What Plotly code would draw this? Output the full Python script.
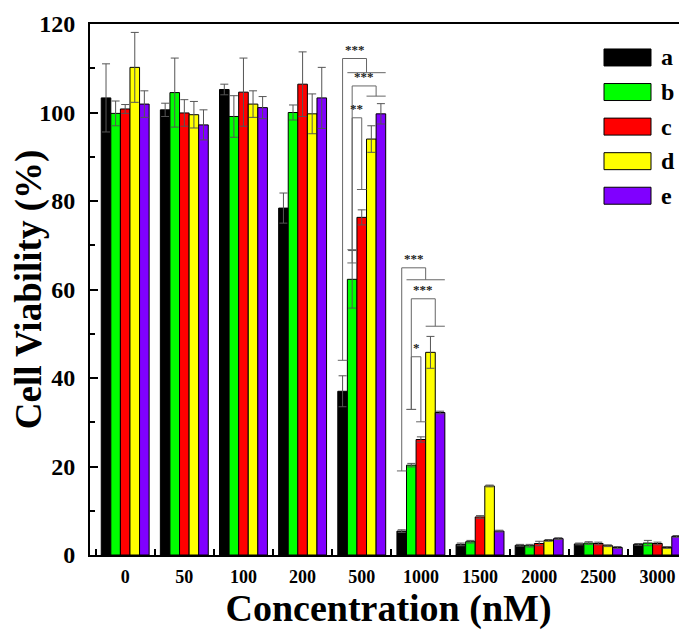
import plotly.graph_objects as go

# ---------------- data ----------------
categories = ["0", "50", "100", "200", "500", "1000", "1500", "2000", "2500", "3000"]
series_names = ["a", "b", "c", "d", "e"]

a_vals = [103.3, 100.6, 105.2, 78.4, 37.0, 5.4, 2.4, 2.2, 2.5, 2.4]
a_err = [7.7, 1.5, 1.2, 3.4, 3.5, 0.3, 0.3, 0.2, 0.2, 0.2]
b_vals = [99.8, 104.5, 99.1, 100.0, 62.3, 20.3, 3.0, 2.1, 2.7, 2.7]
b_err = [2.8, 7.8, 4.7, 1.7, 6.5, 0.4, 0.3, 0.3, 0.3, 0.6]
c_vals = [100.8, 99.9, 104.6, 106.4, 76.3, 26.1, 8.6, 2.6, 2.6, 2.6]
c_err = [1.0, 3.0, 7.7, 7.3, 1.7, 0.6, 0.3, 0.5, 0.3, 0.3]
d_vals = [110.2, 99.5, 101.9, 99.7, 94.0, 45.8, 15.6, 3.3, 2.1, 1.7]
d_err = [7.9, 3.0, 3.0, 4.5, 3.0, 3.6, 0.2, 0.2, 0.2, 0.2]
e_vals = [101.9, 97.2, 101.1, 103.3, 99.7, 32.2, 5.4, 3.7, 1.7, 4.2]
e_err = [3.0, 3.4, 2.5, 6.9, 2.3, 0.3, 0.2, 0.2, 0.2, 0.2]

values = [a_vals, b_vals, c_vals, d_vals, e_vals]
errors = [a_err, b_err, c_err, d_err, e_err]
colors = ["#000000", "#00FF00", "#FF0000", "#FFFF00", "#8000FF"]

# significance brackets
sig_group = [4, 4, 4, 5, 5, 5]
sig_left = ["a", "b", "b", "a", "b", "b"]
sig_right = [["b", "e"], ["d", "e"], ["c"], ["b", "e"], ["d", "e"], ["c"]]
sig_top = [112.2, 106.0, 98.8, 64.9, 57.9, 44.8]
sig_drop = [109.0, 103.7, 82.6, 62.2, 51.7, 30.1]
sig_leg_bottom = [44.0, 69.0, 66.0, 19.0, 32.9, 32.9]
sig_label = ["***", "***", "**", "***", "***", "*"]

# ---------------- figure ----------------
FONT = "Liberation Serif"
BARGAP = 0.19
nser = len(series_names)
bw = (1 - BARGAP) / nser

# page body margin of the html output shifts the plot by 8px
OFF = 8
W, H = 687 - OFF, 630 - OFF
L, R, T, B = 90 - OFF, 687 - OFF, 23.5 - OFF, 555 - OFF

fig = go.Figure()
for name, vals, err, col in zip(series_names, values, errors, colors):
    fig.add_trace(go.Bar(
        x=categories, y=vals, name=name,
        marker=dict(color=col, line=dict(color="#000000", width=1)),
        error_y=dict(type="data", array=err, symmetric=True,
                     color="#555555", thickness=1, width=4),
        showlegend=False,
    ))


def xpos(g, s):
    return g + (series_names.index(s) - (nser - 1) / 2) * bw


shapes = []
annotations = []
LC = "#666666"
cap = bw / 2
for g, l, r, top, drop, lb, lab in zip(sig_group, sig_left, sig_right, sig_top,
                                        sig_drop, sig_leg_bottom, sig_label):
    xl = xpos(g, l)
    if len(r) == 1:
        xr = xpos(g, r[0])
    else:
        x0 = xpos(g, r[0]) - bw / 2
        x1 = xpos(g, r[-1]) + bw / 2
        xr = (x0 + x1) / 2
        shapes.append(dict(type="line", xref="x", yref="y", x0=x0, x1=x1,
                           y0=drop, y1=drop, line=dict(color=LC, width=1)))
    shapes.append(dict(type="line", xref="x", yref="y", x0=xl, x1=xr,
                       y0=top, y1=top, line=dict(color=LC, width=1)))
    shapes.append(dict(type="line", xref="x", yref="y", x0=xl, x1=xl,
                       y0=top, y1=lb, line=dict(color=LC, width=1)))
    shapes.append(dict(type="line", xref="x", yref="y", x0=xl - cap, x1=xl + cap,
                       y0=lb, y1=lb, line=dict(color=LC, width=1)))
    shapes.append(dict(type="line", xref="x", yref="y", x0=xr, x1=xr,
                       y0=top, y1=drop, line=dict(color=LC, width=1)))
    if len(r) == 1:
        shapes.append(dict(type="line", xref="x", yref="y", x0=xr - cap, x1=xr + cap,
                           y0=drop, y1=drop, line=dict(color=LC, width=1)))
    annotations.append(dict(x=(xl + xr) / 2, y=top, xref="x", yref="y",
                            text=lab, showarrow=False, yanchor="bottom",
                            font=dict(family=FONT, size=13, color="#222222",
                                      weight="bold")))


def px2paper(px, py):
    # reference-image pixel -> paper coords
    return (px - OFF - L) / (R - L), (B - (py - OFF)) / (B - T)


for i, (name, col) in enumerate(zip(series_names, colors)):
    yc = 57 + i * 34.6
    x0, y0 = px2paper(604, yc + 8.5)
    x1, y1 = px2paper(651, yc - 8.5)
    shapes.append(dict(type="rect", xref="paper", yref="paper", x0=x0, x1=x1,
                       y0=y0, y1=y1, fillcolor=col,
                       line=dict(color="#000000", width=1)))
    tx, ty = px2paper(659, yc)
    annotations.append(dict(x=tx, y=ty, xref="paper", yref="paper", text=name,
                            showarrow=False, xanchor="left", yanchor="middle",
                            font=dict(family=FONT, size=24, color="#000000",
                                      weight="bold")))

fig.update_layout(
    width=W, height=H,
    margin=dict(l=L, r=W - R, t=T, b=H - B, pad=0),
    paper_bgcolor="white", plot_bgcolor="white",
    barmode="group", bargap=BARGAP, bargroupgap=0,
    shapes=shapes, annotations=annotations,
    xaxis=dict(
        type="category", range=[-0.595, 9.5],
        tickson="boundaries", ticks="inside", ticklen=6, tickwidth=1.5,
        tickcolor="#000000",
        showline=True, linecolor="#000000", linewidth=2, mirror=True,
        showgrid=False, zeroline=False,
        tickfont=dict(family=FONT, size=18, color="#000000", weight="bold"),
        ticklabelstandoff=4,
        title=dict(text="Concentration (nM)", standoff=8,
                   font=dict(family=FONT, size=38, color="#000000", weight="bold")),
    ),
    yaxis=dict(
        range=[0, 120], tickvals=[0, 20, 40, 60, 80, 100, 120],
        ticks="inside", ticklen=8, tickwidth=1.5, tickcolor="#000000",
        minor=dict(dtick=10, ticks="inside", ticklen=5, tickwidth=1.5,
                   tickcolor="#000000"),
        showline=True, linecolor="#000000", linewidth=2, mirror=False,
        showgrid=False, zeroline=False,
        tickfont=dict(family=FONT, size=24, color="#000000", weight="bold"),
        ticklabelstandoff=8,
        title=dict(text="Cell Viability (%)", standoff=1,
                   font=dict(family=FONT, size=37, color="#000000", weight="bold")),
    ),
)

fig.write_html("out.html")
